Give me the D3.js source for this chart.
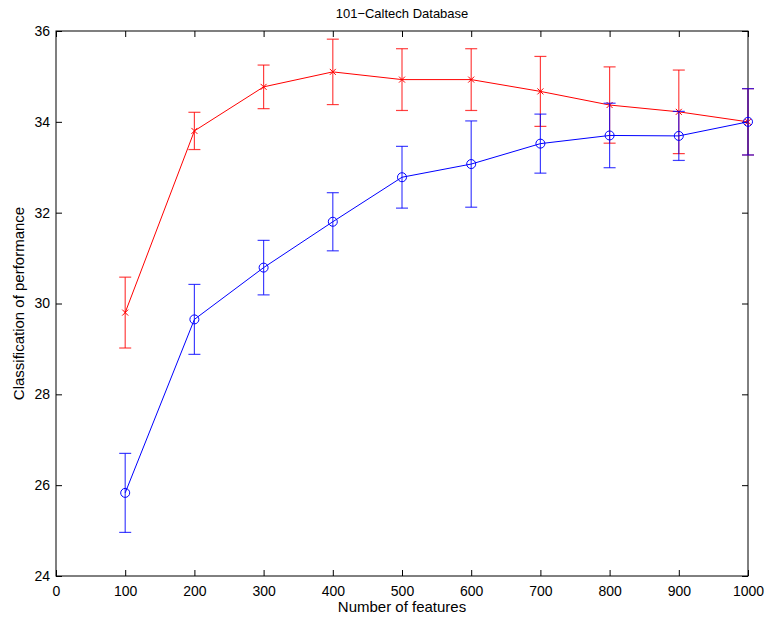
<!DOCTYPE html>
<html>
<head>
<meta charset="utf-8">
<script src="https://cdn.jsdelivr.net/npm/d3@7"></script>
<style>
  body { margin: 0; background: #fff; }
  text { font-family: "Liberation Sans", Arial, sans-serif; }
</style>
</head>
<body>
<div id="chart"></div>
<script>
// feature counts on the x axis
const features = [100, 200, 300, 400, 500, 600, 700, 800, 900, 1000];

// red series (x markers)
const redMean = [29.8, 33.8, 34.77, 35.1, 34.93, 34.93, 34.67, 34.37, 34.22, 34.0];
const redErr  = [0.78, 0.41, 0.48, 0.72, 0.68, 0.68, 0.77, 0.84, 0.92, 0.73];

// blue series (circle markers)
const blueMean = [25.83, 29.65, 30.79, 31.8, 32.78, 33.07, 33.52, 33.7, 33.69, 34.0];
const blueErr  = [0.87, 0.77, 0.6, 0.64, 0.68, 0.95, 0.65, 0.71, 0.54, 0.73];

const xTicks = [0, 100, 200, 300, 400, 500, 600, 700, 800, 900, 1000];
const yTicks = [24, 26, 28, 30, 32, 34, 36];

const W = 768, H = 620;
const margin = {top: 31, right: 20, bottom: 44, left: 56};
const width = W - margin.left - margin.right,
      height = H - margin.top - margin.bottom;

const svg = d3.select("#chart").append("svg")
    .attr("width", W)
    .attr("height", H);

const g = svg.append("g").attr("transform", "translate(" + margin.left + "," + margin.top + ")");

const x = d3.scaleLinear().domain([0, 1000]).range([0, width]);
const y = d3.scaleLinear().domain([24, 36]).range([height, 0]);

// axes: ticks pointing inward, on all four sides
const tickLen = 6;
g.append("g")
    .attr("transform", "translate(0," + height + ")")
    .call(d3.axisBottom(x).tickValues(xTicks).tickFormat(d3.format("d")).tickSizeInner(-tickLen).tickSizeOuter(0).tickPadding(10))
    .call(a => a.select(".domain").remove());
g.append("g")
    .call(d3.axisTop(x).tickValues(xTicks).tickSizeInner(-tickLen).tickSizeOuter(0).tickFormat(""))
    .call(a => a.select(".domain").remove());
g.append("g")
    .call(d3.axisLeft(y).tickValues(yTicks).tickSizeInner(-tickLen).tickSizeOuter(0).tickPadding(6))
    .call(a => a.select(".domain").remove());
g.append("g")
    .attr("transform", "translate(" + width + ",0)")
    .call(d3.axisRight(y).tickValues(yTicks).tickSizeInner(-tickLen).tickSizeOuter(0).tickFormat(""))
    .call(a => a.select(".domain").remove());

g.selectAll(".tick line").attr("stroke", "#000");
g.selectAll(".tick text")
    .attr("font-size", 14)
    .attr("fill", "#000")
    .style("font-family", "Liberation Sans, Arial, sans-serif");

g.append("rect")
    .attr("width", width)
    .attr("height", height)
    .attr("fill", "none")
    .attr("stroke", "#000")
    .attr("stroke-width", 1);

function drawSeries(mean, err, color, marker) {
    const data = features.map((f, i) => ({f: f, m: mean[i], e: err[i]}));
    const s = g.append("g");

    const bars = s.selectAll(".eb").data(data).enter().append("g")
        .attr("stroke", color)
        .attr("stroke-opacity", 0.75)
        .attr("stroke-width", 1.2);
    bars.append("line")
        .attr("x1", d => x(d.f)).attr("x2", d => x(d.f))
        .attr("y1", d => y(d.m + d.e)).attr("y2", d => y(d.m - d.e));
    bars.append("line")
        .attr("x1", d => x(d.f) - 6).attr("x2", d => x(d.f) + 6)
        .attr("y1", d => y(d.m + d.e)).attr("y2", d => y(d.m + d.e));
    bars.append("line")
        .attr("x1", d => x(d.f) - 6).attr("x2", d => x(d.f) + 6)
        .attr("y1", d => y(d.m - d.e)).attr("y2", d => y(d.m - d.e));

    s.append("path")
        .datum(data)
        .attr("fill", "none")
        .attr("stroke", color)
        .attr("stroke-width", 1)
        .attr("d", d3.line().x(d => x(d.f)).y(d => y(d.m)));

    if (marker == "circle") {
        s.selectAll("circle").data(data).enter().append("circle")
            .attr("cx", d => x(d.f))
            .attr("cy", d => y(d.m))
            .attr("r", 4.5)
            .attr("fill", "none")
            .attr("stroke", color)
            .attr("stroke-width", 1);
    } else {
        s.selectAll(".mk").data(data).enter().append("path")
            .attr("transform", d => "translate(" + x(d.f) + "," + y(d.m) + ")")
            .attr("d", "M-3,-3L3,3M-3,3L3,-3")
            .attr("stroke", color)
            .attr("stroke-width", 1);
    }
}

drawSeries(redMean, redErr, "#ff0000", "x");
drawSeries(blueMean, blueErr, "#0000ff", "circle");

svg.append("text")
    .attr("x", margin.left + width / 2)
    .attr("y", 18)
    .attr("text-anchor", "middle")
    .attr("font-size", 13)
    .text("101\u2212Caltech Database");

svg.append("text")
    .attr("x", margin.left + width / 2)
    .attr("y", 612)
    .attr("text-anchor", "middle")
    .attr("font-size", 15)
    .text("Number of features");

svg.append("text")
    .attr("transform", "translate(24," + (margin.top + height / 2) + ") rotate(-90)")
    .attr("text-anchor", "middle")
    .attr("font-size", 15)
    .text("Classification of performance");
</script>
</body>
</html>
